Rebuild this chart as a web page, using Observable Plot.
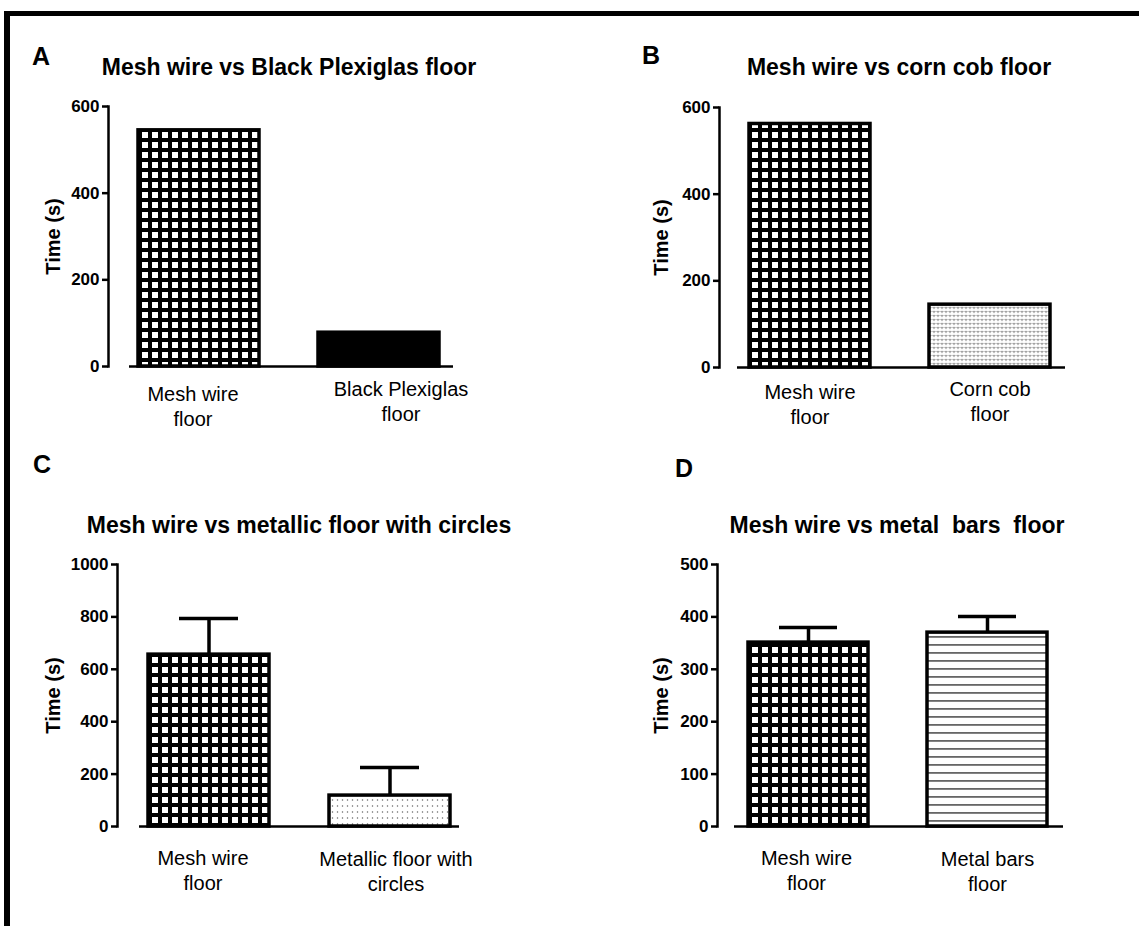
<!DOCTYPE html>
<html>
<head>
<meta charset="utf-8">
<script src="https://cdn.jsdelivr.net/npm/d3@7"></script>
<script src="https://cdn.jsdelivr.net/npm/@observablehq/plot@0.6"></script>
<style>
  html, body { margin: 0; padding: 0; background: #fff; }
  body { font-family: "Liberation Sans", Arial, Helvetica, sans-serif; color: #000; }
  #root { position: relative; width: 1139px; height: 926px; overflow: hidden; background: #fff; }
  .border { position: absolute; left: 4px; top: 11px; width: 1300px; height: 1100px;
            border-left: 6px solid #000; border-top: 5px solid #000; box-sizing: border-box; }
  .title { position: absolute; font-weight: bold; font-size: 23px; line-height: 23px;
           white-space: nowrap; transform: translateX(-50%); }
  .letter { position: absolute; font-weight: bold; font-size: 25px; line-height: 25px; }
  .panel { position: absolute; }
  .panel svg { overflow: visible; }
</style>
</head>
<body>
<svg width="0" height="0" style="position:absolute">
  <defs>
    <pattern id="mesh" patternUnits="userSpaceOnUse" width="10" height="10">
      <rect width="10" height="10" fill="#000"/>
      <rect x="2" y="2" width="6" height="6" fill="#fff"/>
    </pattern>
    <pattern id="dots" patternUnits="userSpaceOnUse" width="5" height="6">
      <rect width="5" height="6" fill="#fff"/>
      <circle cx="2.5" cy="3" r="0.75" fill="#666"/>
    </pattern>
    <pattern id="corn" patternUnits="userSpaceOnUse" width="4" height="4">
      <rect width="4" height="4" fill="#fff"/>
      <circle cx="1.2" cy="1.5" r="0.8" fill="#999"/>
      <circle cx="2.8" cy="1.5" r="0.8" fill="#999"/>
      <circle cx="2" cy="2.6" r="0.7" fill="#999"/>
    </pattern>
    <pattern id="hlines" patternUnits="userSpaceOnUse" width="10" height="8">
      <rect width="10" height="8" fill="#fff"/>
      <rect y="3" width="10" height="1.8" fill="#666"/>
    </pattern>
  </defs>
</svg>
<div id="root"><div class="border"></div></div>
<script>
// ---------------- DATA ----------------
const panelLetters = ["A", "B", "C", "D"];
const panelTitles = [
  "Mesh wire vs Black Plexiglas floor",
  "Mesh wire vs corn cob floor",
  "Mesh wire vs metallic floor with circles",
  "Mesh wire vs metal\u00a0 bars\u00a0 floor"
];
const yAxisTitle = "Time (s)";

const categoriesA = ["Mesh wire floor", "Black Plexiglas floor"];
const labelsA = ["Mesh wire\nfloor", "Black Plexiglas\nfloor"];
const valuesA = [545, 78];
const yTicksA = [0, 200, 400, 600];

const categoriesB = ["Mesh wire floor", "Corn cob floor"];
const labelsB = ["Mesh wire\nfloor", "Corn cob\nfloor"];
const valuesB = [562, 145];
const yTicksB = [0, 200, 400, 600];

const categoriesC = ["Mesh wire floor", "Metallic floor with circles"];
const labelsC = ["Mesh wire\nfloor", "Metallic floor with\ncircles"];
const valuesC = [656, 118];
const errorTopC = [794, 225];
const yTicksC = [0, 200, 400, 600, 800, 1000];

const categoriesD = ["Mesh wire floor", "Metal bars floor"];
const labelsD = ["Mesh wire\nfloor", "Metal bars\nfloor"];
const valuesD = [351, 370];
const errorTopD = [380, 401];
const yTicksD = [0, 100, 200, 300, 400, 500];

// ---------------- LAYOUT / STYLE ----------------
const fillsA = ["url(#mesh)", "#000"];
const fillsB = ["url(#mesh)", "url(#corn)"];
const fillsC = ["url(#mesh)", "url(#dots)"];
const fillsD = ["url(#mesh)", "url(#hlines)"];

const layouts = [
  {left: 0,   top: 90,  width: 470, height: 360, mL: 108, mR: 17, mT: 16, mB: 84, xRange: [120, 457], baseInset: 21, yLabelDx: -55, labelDx: [-6, 22], labelDy: [17, 12], titleX: 289, titleBase: 75, letterX: 32, letterBase: 65},
  {left: 600, top: 90,  width: 480, height: 360, mL: 119, mR: 15, mT: 17, mB: 83, xRange: [731, 1068], baseInset: 18, yLabelDx: -58, labelDx: [0, 0], labelDy: [14, 11], titleX: 899, titleBase: 75, letterX: 642, letterBase: 64},
  {left: 0,   top: 545, width: 480, height: 360, mL: 117, mR: 21, mT: 19, mB: 79, xRange: [130, 469], baseInset: 22, yLabelDx: -64, labelDx: [-6, 6], labelDy: [21, 22], titleX: 299, titleBase: 533, letterX: 33, letterBase: 473},
  {left: 600, top: 545, width: 480, height: 360, mL: 117, mR: 17, mT: 19, mB: 79, xRange: [729, 1065], baseInset: 17, yLabelDx: -56, labelDx: [-2, 0], labelDy: [21, 22], titleX: 897, titleBase: 533, letterX: 675, letterBase: 477}
];

const panels = [
  {categories: categoriesA, labels: labelsA, values: valuesA, errors: null, ticks: yTicksA, fills: fillsA},
  {categories: categoriesB, labels: labelsB, values: valuesB, errors: null, ticks: yTicksB, fills: fillsB},
  {categories: categoriesC, labels: labelsC, values: valuesC, errors: errorTopC, ticks: yTicksC, fills: fillsC},
  {categories: categoriesD, labels: labelsD, values: valuesD, errors: errorTopD, ticks: yTicksD, fills: fillsD}
];

const FONT = "Liberation Sans, Arial, Helvetica, sans-serif";
const root = document.getElementById("root");

panels.forEach((p, k) => {
  const L = layouts[k];
  const rows = p.categories.map((c, i) => ({
    cat: c, value: p.values[i], err: p.errors ? p.errors[i] : null, label: p.labels[i]
  }));
  const marks = [];
  rows.forEach((r, i) => {
    marks.push(Plot.barY([r], {x: "cat", y: "value", fill: p.fills[i], stroke: "#000", strokeWidth: 3.5}));
  });
  if (p.errors) {
    marks.push(Plot.ruleX(rows, {x: "cat", y1: "value", y2: "err", stroke: "#000", strokeWidth: 3.5}));
    marks.push(Plot.tickY(rows, {x: "cat", y: "err", stroke: "#000", strokeWidth: 3.5, insetLeft: 31, insetRight: 31}));
  }
  marks.push(Plot.ruleY([p.ticks[0]], {stroke: "#000", strokeWidth: 2.5, insetLeft: L.baseInset}));
  marks.push(Plot.frame({anchor: "left", stroke: "#000", strokeWidth: 2.5}));
  marks.push(Plot.axisY({ticks: p.ticks, tickFormat: d => String(d), tickSize: 6, tickPadding: 3,
    fontSize: 17, fontWeight: "bold", strokeWidth: 2.5, stroke: "#000", fill: "#000", label: null}));
  marks.push(Plot.text([yAxisTitle], {frameAnchor: "left", dx: L.yLabelDx, rotate: -90,
    fontSize: 20, fontWeight: "bold", fill: "#000", textAnchor: "middle"}));
  rows.forEach((r, i) => {
    marks.push(Plot.text([r], {x: "cat", frameAnchor: "bottom", text: "label", lineAnchor: "top",
      dx: L.labelDx[i], dy: L.labelDy[i], fontSize: 20, lineHeight: 1.25, fill: "#000"}));
  });

  const chart = Plot.plot({
    width: L.width, height: L.height,
    marginLeft: L.mL, marginRight: L.mR, marginTop: L.mT, marginBottom: L.mB,
    style: {background: "transparent", color: "#000", fontFamily: FONT, overflow: "visible"},
    x: {domain: p.categories, range: [L.xRange[0] - L.left, L.xRange[1] - L.left], paddingInner: 0.33, paddingOuter: 0.1, axis: null},
    y: {domain: [p.ticks[0], p.ticks[p.ticks.length - 1]], axis: null},
    marks
  });
  const wrap = document.createElement("div");
  wrap.className = "panel";
  wrap.style.left = L.left + "px";
  wrap.style.top = L.top + "px";
  wrap.appendChild(chart);
  root.appendChild(wrap);

  const t = document.createElement("div");
  t.className = "title";
  t.textContent = panelTitles[k];
  t.style.left = L.titleX + "px";
  t.style.top = (L.titleBase - 19.5) + "px";
  root.appendChild(t);

  const lt = document.createElement("div");
  lt.className = "letter";
  lt.textContent = panelLetters[k];
  lt.style.left = L.letterX + "px";
  lt.style.top = (L.letterBase - 21.2) + "px";
  root.appendChild(lt);
});
</script>
</body>
</html>
